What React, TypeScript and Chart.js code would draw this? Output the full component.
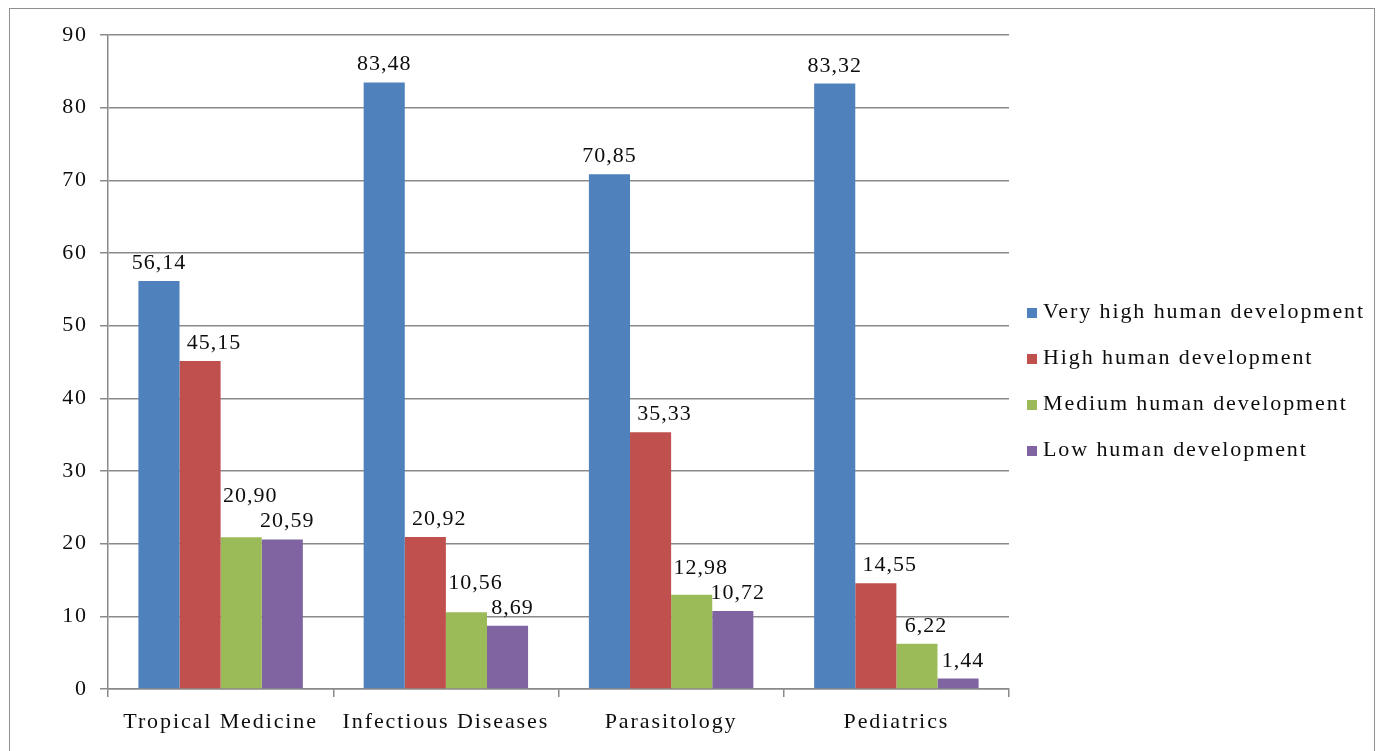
import React, { useEffect, useRef } from "react";
import { Chart, registerables } from "chart.js";

Chart.register(...registerables);

const categories = ["Tropical Medicine", "Infectious Diseases", "Parasitology", "Pediatrics"];
const seriesNames = [
  "Very high human development",
  "High human development",
  "Medium human development",
  "Low human development",
];
const veryHigh = [56.14, 83.48, 70.85, 83.32];
const high = [45.15, 20.92, 35.33, 14.55];
const medium = [20.9, 10.56, 12.98, 6.22];
const low = [20.59, 8.69, 10.72, 1.44];
const colors = ["#4F81BD", "#C0504D", "#9BBB59", "#8064A2"];
const yTicks = [0, 10, 20, 30, 40, 50, 60, 70, 80, 90];

const FONT_FAMILY = "'Liberation Serif', 'Times New Roman', serif";
const FONT_SIZE = 22;
const SPACING = "1.9px";
const GRID = "#8a8a8a";
const TEXT = "#0d0d0d";

const spacingPlugin = {
  id: "spacing",
  beforeUpdate(chart: any) {
    chart.ctx.letterSpacing = SPACING;
  },
  beforeDraw(chart: any) {
    chart.ctx.letterSpacing = SPACING;
  },
};

const labelDx = [0, 14, 9, 5];

const labelPlugin = {
  id: "valueLabels",
  afterDatasetsDraw(chart: any) {
    const ctx = chart.ctx;
    ctx.save();
    ctx.letterSpacing = "1px";
    ctx.font = `${FONT_SIZE}px ${FONT_FAMILY}`;
    ctx.fillStyle = TEXT;
    ctx.textAlign = "center";
    ctx.textBaseline = "alphabetic";
    const nDs = chart.data.datasets.length;
    const nCat = chart.data.labels.length;
    const textH = 16;
    for (let i = 0; i < nCat; i++) {
      const placed: { l: number; r: number; t: number; b: number }[] = [];
      for (let di = nDs - 1; di >= 0; di--) {
        const ds = chart.data.datasets[di];
        const el = chart.getDatasetMeta(di).data[i] as any;
        const v = ds.data[i] as number;
        const txt = v.toFixed(2).replace(".", ",");
        const w = ctx.measureText(txt).width;
        const x = el.x + labelDx[di];
        let y = el.y - 12;
        let moved = true;
        while (moved) {
          moved = false;
          for (const p of placed) {
            const l = x - w / 2, r = x + w / 2, t = y - textH, b = y;
            if (l < p.r && r > p.l && t < p.b + 6 && b > p.t - 6) {
              y = p.t - 9;
              moved = true;
            }
          }
        }
        placed.push({ l: x - w / 2, r: x + w / 2, t: y - textH, b: y });
        ctx.fillText(txt, x, y);
      }
    }
    ctx.restore();
  },
};

const legendPlugin = {
  id: "customLegend",
  afterDraw(chart: any) {
    const ctx = chart.ctx;
    const area = chart.chartArea;
    const rowH = 46;
    const n = chart.data.datasets.length;
    const centerY = (area.top + area.bottom) / 2 + 19;
    const startY = centerY - ((n - 1) * rowH) / 2;
    const boxX = area.right + 18;
    ctx.save();
    ctx.letterSpacing = SPACING;
    ctx.font = `${FONT_SIZE}px ${FONT_FAMILY}`;
    ctx.textAlign = "left";
    ctx.textBaseline = "middle";
    chart.data.datasets.forEach((ds: any, i: number) => {
      const y = startY + i * rowH;
      ctx.fillStyle = ds.backgroundColor;
      ctx.fillRect(boxX, y - 4, 10, 10);
      ctx.fillStyle = TEXT;
      ctx.fillText(ds.label, boxX + 16, y);
    });
    ctx.restore();
  },
};

export default function App() {
  const ref = useRef<HTMLCanvasElement | null>(null);

  useEffect(() => {
    if (!ref.current) return;
    const allSeries = [veryHigh, high, medium, low];
    const chart = new Chart(ref.current, {
      type: "bar",
      data: {
        labels: categories,
        datasets: allSeries.map((d, i) => ({
          label: seriesNames[i],
          data: d,
          backgroundColor: colors[i],
          borderWidth: 0,
          categoryPercentage: 0.73,
          barPercentage: 1,
        })),
      },
      options: {
        animation: false,
        responsive: false,
        devicePixelRatio: 1,
        layout: { padding: { left: 0, right: 374, top: 35, bottom: 0 } },
        plugins: {
          legend: { display: false },
          tooltip: { enabled: false },
        },
        scales: {
          x: {
            grid: {
              display: true,
              drawOnChartArea: false,
              drawTicks: true,
              tickLength: 8,
              color: GRID,
              lineWidth: 1.5,
              offset: true,
            },
            border: { display: true, color: GRID, width: 1.5 },
            ticks: {
              color: TEXT,
              font: { family: FONT_FAMILY, size: FONT_SIZE },
              padding: 12,
              maxRotation: 0,
            },
            afterFit(scale: any) {
              scale.height = 62;
            },
          },
          y: {
            min: 0,
            max: 90,
            afterBuildTicks(scale: any) {
              scale.ticks = yTicks.map((v) => ({ value: v }));
            },
            grid: {
              color: GRID,
              lineWidth: 1.5,
              tickLength: 8,
            },
            border: { display: true, color: GRID, width: 1.5 },
            ticks: {
              color: TEXT,
              font: { family: FONT_FAMILY, size: FONT_SIZE },
              padding: 12,
            },
            afterFit(scale: any) {
              scale.width = 108;
            },
          },
        },
      },
      plugins: [spacingPlugin, labelPlugin, legendPlugin],
    });
    return () => chart.destroy();
  }, []);

  return (
    <div style={{ position: "absolute", left: 0, top: 0, width: 1383, height: 751, background: "#fff", overflow: "hidden" }}>
      <canvas ref={ref} width={1383} height={751} style={{ display: "block", width: 1383, height: 751 }} />
      <div
        style={{
          position: "absolute",
          left: 9,
          top: 8,
          width: 1366,
          height: 800,
          border: "1.5px solid #8f8f8f",
          boxSizing: "border-box",
          pointerEvents: "none",
        }}
      />
    </div>
  );
}
